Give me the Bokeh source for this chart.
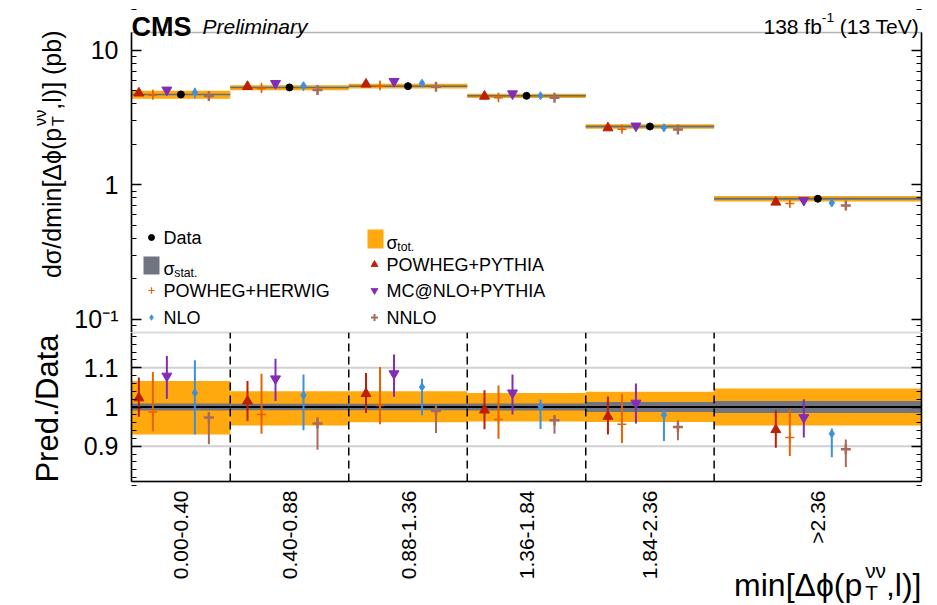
import math
from math import pi

from bokeh.plotting import figure
from bokeh.layouts import column
from bokeh.models import (ColumnDataSource, FixedTicker, Label, LogAxis, LinearAxis,
                          Range1d, BasicTickFormatter, BoxAnnotation)
from bokeh.embed import file_html
from bokeh.resources import INLINE

# ---------------- data ----------------
bin_edges = [0.0, 0.40, 0.88, 1.36, 1.84, 2.36, 3.20]
bin_labels = ["0.00-0.40", "0.40-0.88", "0.88-1.36", "1.36-1.84", "1.84-2.36", ">2.36"]

data_xsec = [4.71, 5.31, 5.43, 4.60, 2.72, 0.79]          # pb
tot_unc_up = [0.066, 0.040, 0.040, 0.036, 0.039, 0.047]   # relative
tot_unc_dn = [0.070, 0.047, 0.039, 0.037, 0.038, 0.047]
stat_unc = [0.009, 0.008, 0.008, 0.009, 0.013, 0.015]

# prediction / data ratios (central, upper, lower)
powheg_pythia = [1.023, 1.015, 1.034, 0.992, 0.976, 0.942]
powheg_pythia_hi = [1.075, 1.066, 1.087, 1.043, 1.027, 0.992]
powheg_pythia_lo = [0.975, 0.964, 0.985, 0.943, 0.930, 0.896]

powheg_herwig = [0.987, 0.981, 1.004, 0.968, 0.956, 0.922]
powheg_herwig_hi = [1.089, 1.085, 1.102, 1.055, 1.034, 0.994]
powheg_herwig_lo = [0.938, 0.932, 0.956, 0.919, 0.908, 0.875]

mcatnlo_pythia = [1.079, 1.072, 1.085, 1.036, 1.010, 0.973]
mcatnlo_pythia_hi = [1.130, 1.123, 1.134, 1.083, 1.060, 1.020]
mcatnlo_pythia_lo = [1.021, 1.015, 1.026, 0.981, 0.958, 0.922]

nlo = [1.036, 1.030, 1.051, 1.002, 0.980, 0.932]
nlo_hi = [1.119, 1.083, 1.072, 1.019, 0.992, 0.945]
nlo_lo = [0.930, 0.941, 0.979, 0.944, 0.913, 0.872]

nnlo = [0.973, 0.958, 0.990, 0.966, 0.949, 0.892]
nnlo_hi = [0.987, 0.974, 1.004, 0.979, 0.966, 0.917]
nnlo_lo = [0.905, 0.891, 0.934, 0.932, 0.915, 0.847]

ratio_ticks = [0.9, 1.0, 1.1]
xsec_ticks = [0.1, 1, 10]
xsec_tick_labels = ["10⁻¹", "1", "10"]

# ---------------- styling / geometry ----------------
FONT = "Liberation Sans"
C_TOT = "#ffa90e"
C_STAT = "#717581"
C_LINE = "#5b6f86"

W, H = 937, 605
FRAME_L, FRAME_R = 131, 921
TOP_Y0, SPLIT, BOT_Y1 = 32, 332, 481
X_MIN, X_MAX = 0.0, 3.20
Y_MIN, Y_MAX = 0.08, 13.6
R_MIN, R_MAX = 0.81, 1.19

PX_PER_X = (FRAME_R - FRAME_L) / (X_MAX - X_MIN)
PX_PER_DEC = (SPLIT - TOP_Y0) / (math.log10(Y_MAX) - math.log10(Y_MIN))
PX_PER_R = (BOT_Y1 - SPLIT) / (R_MAX - R_MIN)
DX = 14.0 / PX_PER_X   # horizontal spacing between the prediction markers

# the plotting frames fill the whole canvas; the axes sit at fixed data positions
canvas_x = (X_MIN - FRAME_L / PX_PER_X, X_MAX + (W - FRAME_R) / PX_PER_X)
canvas_top_y = (Y_MIN, 10 ** (math.log10(Y_MAX) + TOP_Y0 / PX_PER_DEC))
canvas_bot_y = (R_MIN - (H - BOT_Y1) / PX_PER_R, R_MAX)

series = [
    dict(name="POWHEG+PYTHIA", r=powheg_pythia, hi=powheg_pythia_hi, lo=powheg_pythia_lo,
         color="#bd1f01", marker="triangle", size=10, lw=1, off=-3),
    dict(name="POWHEG+HERWIG", r=powheg_herwig, hi=powheg_herwig_hi, lo=powheg_herwig_lo,
         color="#e76300", marker="cross", size=9, lw=1.5, off=-2),
    dict(name="MC@NLO+PYTHIA", r=mcatnlo_pythia, hi=mcatnlo_pythia_hi, lo=mcatnlo_pythia_lo,
         color="#832db6", marker="inverted_triangle", size=10, lw=1, off=-1),
    dict(name="NLO", r=nlo, hi=nlo_hi, lo=nlo_lo,
         color="#3f90da", marker="diamond", size=8, lw=1, off=1),
    dict(name="NNLO", r=nnlo, hi=nnlo_hi, lo=nnlo_lo,
         color="#a96b59", marker="cross", size=10, lw=2.5, off=2),
]

EM = {'0': .556, '1': .556, '2': .556, '3': .556, '4': .556, '5': .556, '6': .556,
      '7': .556, '8': .556, '9': .556, '.': .278, '-': .333, '−': .584, ' ': .278,
      'd': .556, 'm': .833, 'i': .222, 'n': .556, '[': .278, ']': .278, '(': .333,
      ')': .333, 'p': .556, 'b': .556, ',': .278, 'l': .222, 'T': .611, '/': .278,
      'σ': .60, 'Δ': .668, 'ϕ': .65, 'ν': .50, 'e': .556, 'r': .333, 'D': .722,
      'a': .556, 't': .278, 's': .5, 'o': .556, 'f': .278, 'V': .667}


def text_width(s, size):
    return sum(EM.get(c, .6) for c in s) * size


def conv_top(X, Y):
    return X, SPLIT - Y


def conv_bot(X, Y):
    return X, H - Y


def add_label(fig, conv, X, Y, text, size, angle=0.0, align="left",
              baseline="alphabetic", style="normal", color="black"):
    sx, sy = conv(X, Y)
    fig.add_layout(Label(x=sx, y=sy, x_units="screen", y_units="screen", text=text,
                         angle=angle, text_align=align, text_baseline=baseline,
                         text_font=FONT, text_font_size=f"{size:.1f}px",
                         text_font_style=style, text_color=color))


def rich(fig, conv, X, Y, parts, size, rotated=False, align="left", scale=0.65):
    """Write a string with sub/superscripts as a row of labels."""
    segs, pos = [], 0.0
    fs = size * scale
    for it in parts:
        if isinstance(it, str):
            lead = len(it) - len(it.lstrip(" "))
            pos += text_width(" " * lead, size)
            body = it.strip(" ")
            segs.append((body, pos, 0.0, size))
            pos += text_width(it[lead:], size)
        elif it[0] == "sub":
            segs.append((it[1], pos, -0.25 * size, fs))
            pos += text_width(it[1], fs)
        elif it[0] == "sup":
            segs.append((it[1], pos, 0.42 * size, fs))
            pos += text_width(it[1], fs)
        else:  # stacked sub + sup
            segs.append((it[1], pos, -0.25 * size, fs))
            segs.append((it[2], pos, 0.45 * size, fs))
            pos += max(text_width(it[1], fs), text_width(it[2], fs))
    start = {"left": 0.0, "right": -pos, "center": -pos / 2}[align]
    for text, a, perp, f in segs:
        a += start
        if rotated:
            px, py = X - perp, Y - a
        else:
            px, py = X + a, Y - perp
        add_label(fig, conv, px, py, text, f, angle=pi / 2 if rotated else 0.0)


def style_axis(ax, label_size="25px"):
    ax.major_label_text_font = FONT
    ax.major_label_text_font_size = label_size
    ax.major_label_text_color = "black"
    ax.major_label_standoff = 13
    ax.major_tick_in, ax.major_tick_out = 10, 0
    ax.minor_tick_in, ax.minor_tick_out = 5, 0
    ax.axis_line_width = 1.5
    ax.major_tick_line_width = 1.5
    ax.axis_line_color = "black"
    ax.major_tick_line_color = "black"
    ax.minor_tick_line_color = "black"


centers = [(bin_edges[i] + bin_edges[i + 1]) / 2 for i in range(len(data_xsec))]
lefts = bin_edges[:-1]
rights = bin_edges[1:]

# ---------------- upper panel: cross section ----------------
top = figure(width=W, height=SPLIT, y_axis_type="log", title=None,
             x_range=Range1d(*canvas_x), y_range=Range1d(*canvas_top_y),
             x_axis_location=None, toolbar_location=None, output_backend="svg",
             min_border_left=0, min_border_right=0, min_border_top=0, min_border_bottom=0)
top.xgrid.visible = False
top.ygrid.visible = False
top.outline_line_color = None
top.add_layout(BoxAnnotation(left=X_MIN, right=X_MAX, bottom=Y_MIN, top=Y_MAX,
                             fill_color=None, line_color="black", line_width=1.5))

band_src = ColumnDataSource(dict(
    left=lefts, right=rights, data=data_xsec,
    tot_lo=[d * (1 - u) for d, u in zip(data_xsec, tot_unc_dn)],
    tot_hi=[d * (1 + u) for d, u in zip(data_xsec, tot_unc_up)],
    st_lo=[d * (1 - s) for d, s in zip(data_xsec, stat_unc)],
    st_hi=[d * (1 + s) for d, s in zip(data_xsec, stat_unc)],
    r_tot_lo=[1 - u for u in tot_unc_dn], r_tot_hi=[1 + u for u in tot_unc_up],
    r_st_lo=[1 - s for s in stat_unc], r_st_hi=[1 + s for s in stat_unc],
    one=[1.0] * len(data_xsec),
))
top.quad(left="left", right="right", bottom="tot_lo", top="tot_hi", source=band_src,
         fill_color=C_TOT, line_color=None)
top.quad(left="left", right="right", bottom="st_lo", top="st_hi", source=band_src,
         fill_color=C_STAT, line_color=None)
top.segment(x0="left", x1="right", y0="data", y1="data", source=band_src,
            line_color=C_LINE, line_width=1.5)

for s in series:
    xs = [c + s["off"] * DX for c in centers]
    src = ColumnDataSource(dict(
        x=xs,
        y=[r * d for r, d in zip(s["r"], data_xsec)],
        hi=[r * d for r, d in zip(s["hi"], data_xsec)],
        lo=[r * d for r, d in zip(s["lo"], data_xsec)],
    ))
    top.segment(x0="x", x1="x", y0="lo", y1="hi", source=src, line_color=s["color"],
                line_width=1.5)
    top.scatter("x", "y", source=src, marker=s["marker"], size=s["size"],
                fill_color=s["color"], line_color=s["color"], line_width=s["lw"])

top.scatter(centers, data_xsec, marker="circle", size=7, fill_color="black",
            line_color="black")

log_minor = [m * 10.0 ** e for e in (-2, -1, 0, 1) for m in range(2, 10)]
ly = top.yaxis[0]
ly.ticker = FixedTicker(ticks=xsec_ticks, minor_ticks=log_minor)
ly.formatter = BasicTickFormatter()
ly.major_label_overrides = dict(zip(xsec_ticks, xsec_tick_labels))
ly.fixed_location = X_MIN
ly.bounds = (Y_MIN, Y_MAX)
style_axis(ly)
right_top = LogAxis(ticker=FixedTicker(ticks=xsec_ticks, minor_ticks=log_minor),
                    formatter=BasicTickFormatter(),
                    major_label_overrides={t: "" for t in xsec_ticks},
                    fixed_location=X_MAX, bounds=(Y_MIN, Y_MAX))
style_axis(right_top, "0px")
right_top.major_label_standoff = 0
top.add_layout(right_top, "right")

# header
add_label(top, conv_top, FRAME_L, 26, "CMS", 27, style="bold")
add_label(top, conv_top, 202, 26, "Preliminary", 21, style="italic")
rich(top, conv_top, FRAME_R, 26, ["138 fb", ("sup", "-1"), " (13 TeV)"], 21, align="right")

# y-axis title
rich(top, conv_top, 51, 30,
     ["dσ/dmin[Δϕ(p", ("subsup", "T", "νν"), ",l)] (pb)"], 25, rotated=True, align="right")


# legend
def top_data(X, Y):
    xd = canvas_x[0] + X / PX_PER_X
    yd = 10 ** (math.log10(canvas_top_y[1]) - Y / PX_PER_DEC)
    return xd, yd


LEG_FS = 18
rows = [237, 264, 290, 317]
col1_m, col1_t, col2_m, col2_t = 151, 163, 374, 386

x, y = top_data(col1_m, rows[0])
top.scatter([x], [y], marker="circle", size=6, fill_color="black", line_color="black")
add_label(top, conv_top, col1_t, rows[0], "Data", LEG_FS, baseline="middle")

x0, y0 = top_data(367, 229)
x1, y1 = top_data(383, 248)
top.quad(left=[x0], right=[x1], top=[y0], bottom=[y1], fill_color=C_TOT, line_color=None)
rich(top, conv_top, col2_t, rows[0] + 5, ["σ", ("sub", "tot.")], LEG_FS, scale=0.68)

x0, y0 = top_data(143, 256)
x1, y1 = top_data(159, 274)
top.quad(left=[x0], right=[x1], top=[y0], bottom=[y1], fill_color=C_STAT, line_color=None)
rich(top, conv_top, col1_t, rows[1] + 4, ["σ", ("sub", "stat.")], LEG_FS, scale=0.68)

legend_slots = {"POWHEG+PYTHIA": (col2_m, col2_t, rows[1]),
                "POWHEG+HERWIG": (col1_m, col1_t, rows[2]),
                "MC@NLO+PYTHIA": (col2_m, col2_t, rows[2]),
                "NLO": (col1_m, col1_t, rows[3]),
                "NNLO": (col2_m, col2_t, rows[3])}
for s in series:
    mx, tx, ry = legend_slots[s["name"]]
    x, y = top_data(mx, ry)
    top.scatter([x], [y], marker=s["marker"], size=s["size"] * 0.7,
                fill_color=s["color"], line_color=s["color"], line_width=s["lw"] * 0.8)
    add_label(top, conv_top, tx, ry, s["name"], LEG_FS, baseline="middle")

# ---------------- lower panel: ratio ----------------
bot = figure(width=W, height=H - SPLIT, title=None,
             x_range=top.x_range, y_range=Range1d(*canvas_bot_y),
             toolbar_location=None, output_backend="svg",
             min_border_left=0, min_border_right=0, min_border_top=0, min_border_bottom=0)
bot.outline_line_color = None
bot.xgrid.visible = False
bot.ygrid.visible = False

# horizontal reference lines at the outer ratio ticks
grid_src = ColumnDataSource(dict(y=[t for t in ratio_ticks if t != 1.0]))
bot.segment(x0=X_MIN, x1=X_MAX, y0="y", y1="y", source=grid_src,
            line_color="#d0d0d0", line_width=2)

bot.quad(left="left", right="right", bottom="r_tot_lo", top="r_tot_hi", source=band_src,
         fill_color=C_TOT, line_color=None)
bot.quad(left="left", right="right", bottom="r_st_lo", top="r_st_hi", source=band_src,
         fill_color=C_STAT, line_color=None)
bot.segment(x0="left", x1="right", y0="one", y1="one", source=band_src,
            line_color="black", line_width=2)
edge_src = ColumnDataSource(dict(x=bin_edges[1:-1]))
bot.segment(x0="x", x1="x", y0=R_MIN, y1=R_MAX, source=edge_src, line_color="black",
            line_width=1.5, line_dash="8 5")

for s in series:
    xs = [c + s["off"] * DX for c in centers]
    src = ColumnDataSource(dict(x=xs, y=s["r"], hi=s["hi"], lo=s["lo"]))
    bot.segment(x0="x", x1="x", y0="lo", y1="hi", source=src, line_color=s["color"],
                line_width=2)
    bot.scatter("x", "y", source=src, marker=s["marker"], size=s["size"],
                fill_color=s["color"], line_color=s["color"], line_width=s["lw"])

bot.add_layout(BoxAnnotation(left=X_MIN, right=X_MAX, bottom=R_MIN, top=R_MAX,
                             fill_color=None, line_color="black", line_width=1.5))

ratio_minor = [round(0.80 + 0.02 * k, 2) for k in range(21)]
ry_ax = bot.yaxis[0]
ry_ax.ticker = FixedTicker(ticks=ratio_ticks, minor_ticks=ratio_minor)
ry_ax.major_label_overrides = {0.9: "0.9", 1.0: "1", 1.1: "1.1"}
ry_ax.fixed_location = X_MIN
ry_ax.bounds = (R_MIN, R_MAX)
style_axis(ry_ax)
right_bot = LinearAxis(ticker=FixedTicker(ticks=ratio_ticks, minor_ticks=ratio_minor),
                       major_label_overrides={0.9: "", 1.0: "", 1.1: ""},
                       fixed_location=X_MAX, bounds=(R_MIN, R_MAX))
style_axis(right_bot, "0px")
right_bot.major_label_standoff = 0
bot.add_layout(right_bot, "right")

bx = bot.xaxis[0]
bx.ticker = FixedTicker(ticks=centers)
bx.major_label_overrides = {c: lab for c, lab in zip(centers, bin_labels)}
bx.major_label_orientation = pi / 2
bx.fixed_location = R_MIN
bx.bounds = (X_MIN, X_MAX)
style_axis(bx, "21px")
bx.major_label_standoff = 9
bx.major_tick_in = bx.major_tick_out = 0
bx.minor_tick_in = bx.minor_tick_out = 0

add_label(bot, conv_bot, 47, 408, "Pred./Data", 31, angle=pi / 2, align="center",
          baseline="middle")
rich(bot, conv_bot, FRAME_R, 584, ["min[Δϕ(p", ("subsup", "T", "νν"), ",l)]"], 32,
     align="right")

layout = column(top, bot, spacing=0)
open("out.html", "w").write(file_html(layout, INLINE))
